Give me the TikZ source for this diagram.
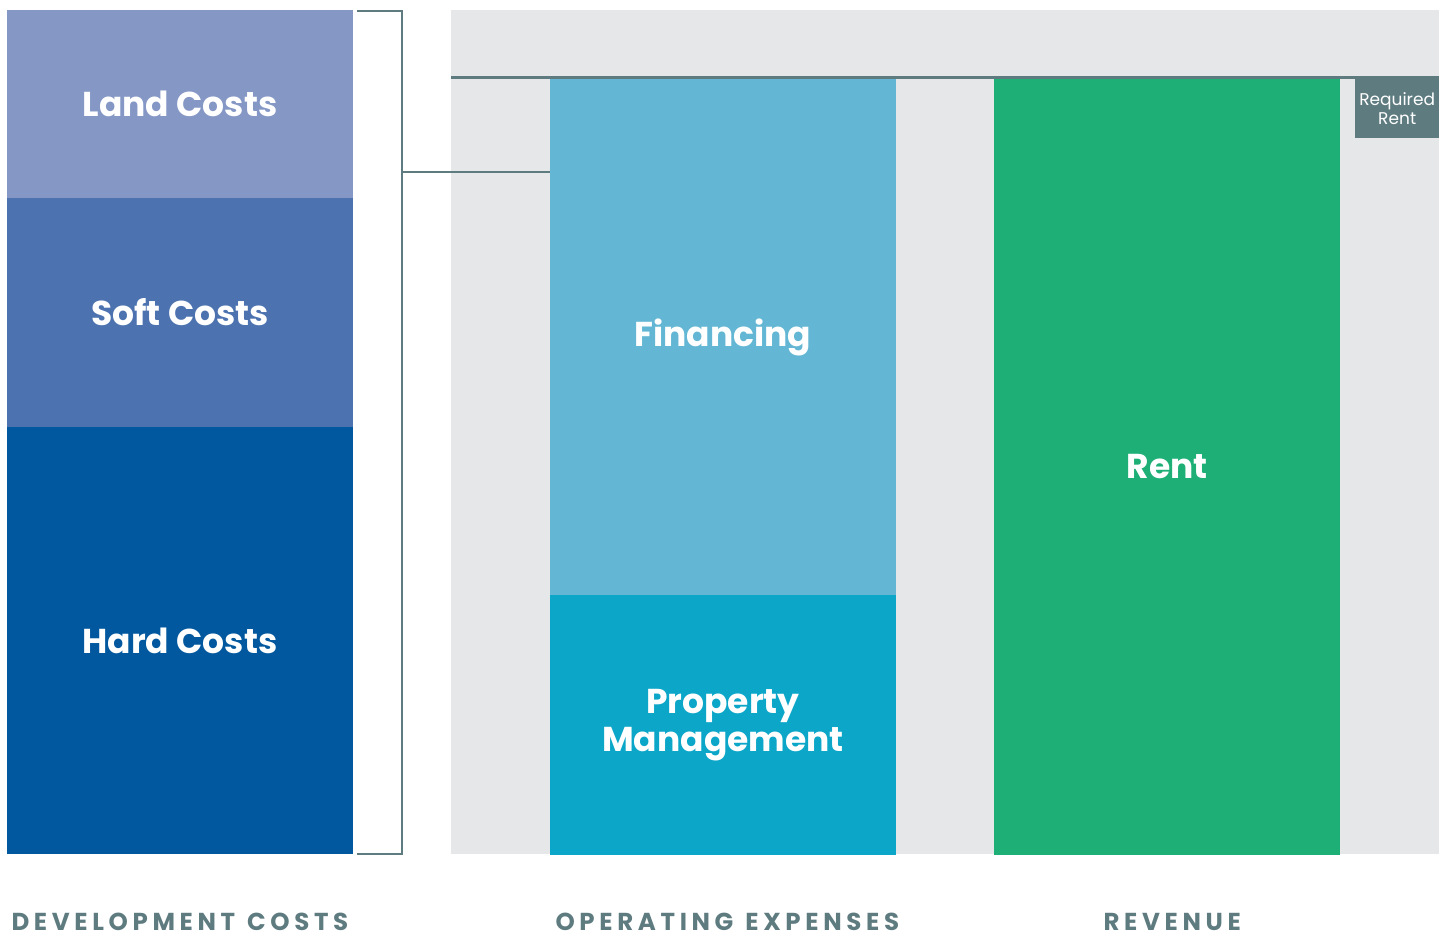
\documentclass[tikz,border=0pt]{standalone}
\usepackage{fontspec}
\setmainfont{Poppins}
\definecolor{landc}{HTML}{8497C5}
\definecolor{softc}{HTML}{4C73B0}
\definecolor{hardc}{HTML}{02589E}
\definecolor{finc}{HTML}{63B7D4}
\definecolor{pmc}{HTML}{0CA6C9}
\definecolor{rentc}{HTML}{1EAF76}
\definecolor{bgc}{HTML}{E6E7E9}
\definecolor{slate}{HTML}{5E7B80}
\newcommand{\wsp}{\hspace{12pt}}
\begin{document}
\begin{tikzpicture}[x=1pt,y=-1pt,
  blockbox/.style={anchor=north west,inner sep=0pt,outer sep=0pt,text=white,align=center,
    font=\fontsize{34.5}{38}\selectfont\bfseries},
  axislabel/.style={text=slate,font=\fontsize{24.5}{26}\selectfont\bfseries\addfontfeatures{LetterSpace=19}},
  link/.style={draw=slate,line width=2.5pt}]
\useasboundingbox (0,0) rectangle (1450,938);
\fill[bgc] (451,10) rectangle (1439,854);
\node[blockbox,fill=landc,minimum width=346pt,minimum height=188pt] (land) at (7,10) {Land Costs};
\node[blockbox,fill=softc,minimum width=346pt,minimum height=229pt] (soft) at (7,198) {Soft Costs};
\node[blockbox,fill=hardc,minimum width=346pt,minimum height=427pt] (hard) at (7,427) {Hard Costs};
\node[blockbox,fill=finc,minimum width=346pt,minimum height=516pt] (fin) at (550,79) {Financing};
\node[blockbox,fill=pmc,minimum width=346pt,minimum height=260pt] (pm) at (550,595) {Property\\Management};
\node[blockbox,fill=rentc,minimum width=346pt,minimum height=776pt] (rent) at (994,79) {Rent};
\node[anchor=north west,inner sep=0pt,fill=slate,text=white,minimum width=84pt,minimum height=60pt,align=center,
  font=\fontsize{17}{19}\selectfont] (req) at (1355,78) {Required\\Rent};
\coordinate (topL) at (451,77);
\coordinate (topR) at (1439,77);
\draw[link,line width=3pt] (topL) -- (topR);
\coordinate (b1) at (358,11);
\coordinate (b2) at (402,11);
\coordinate (b3) at (402,854);
\coordinate (b4) at (358,854);
\coordinate (bm) at (402,172);
\draw[link,line cap=rect] (b1) -- (b2) -- (b3) -- (b4);
\draw[link] (bm) -- (fin.west |- bm);
\node[axislabel,anchor=west] (dev) at (8,922) {DEVELOPMENT\wsp COSTS};
\node[axislabel,anchor=west] (opex) at (552,922) {OPERATING\wsp EXPENSES};
\node[axislabel,anchor=west] (rev) at (1100,922) {REVENUE};
\end{tikzpicture}
\end{document}
